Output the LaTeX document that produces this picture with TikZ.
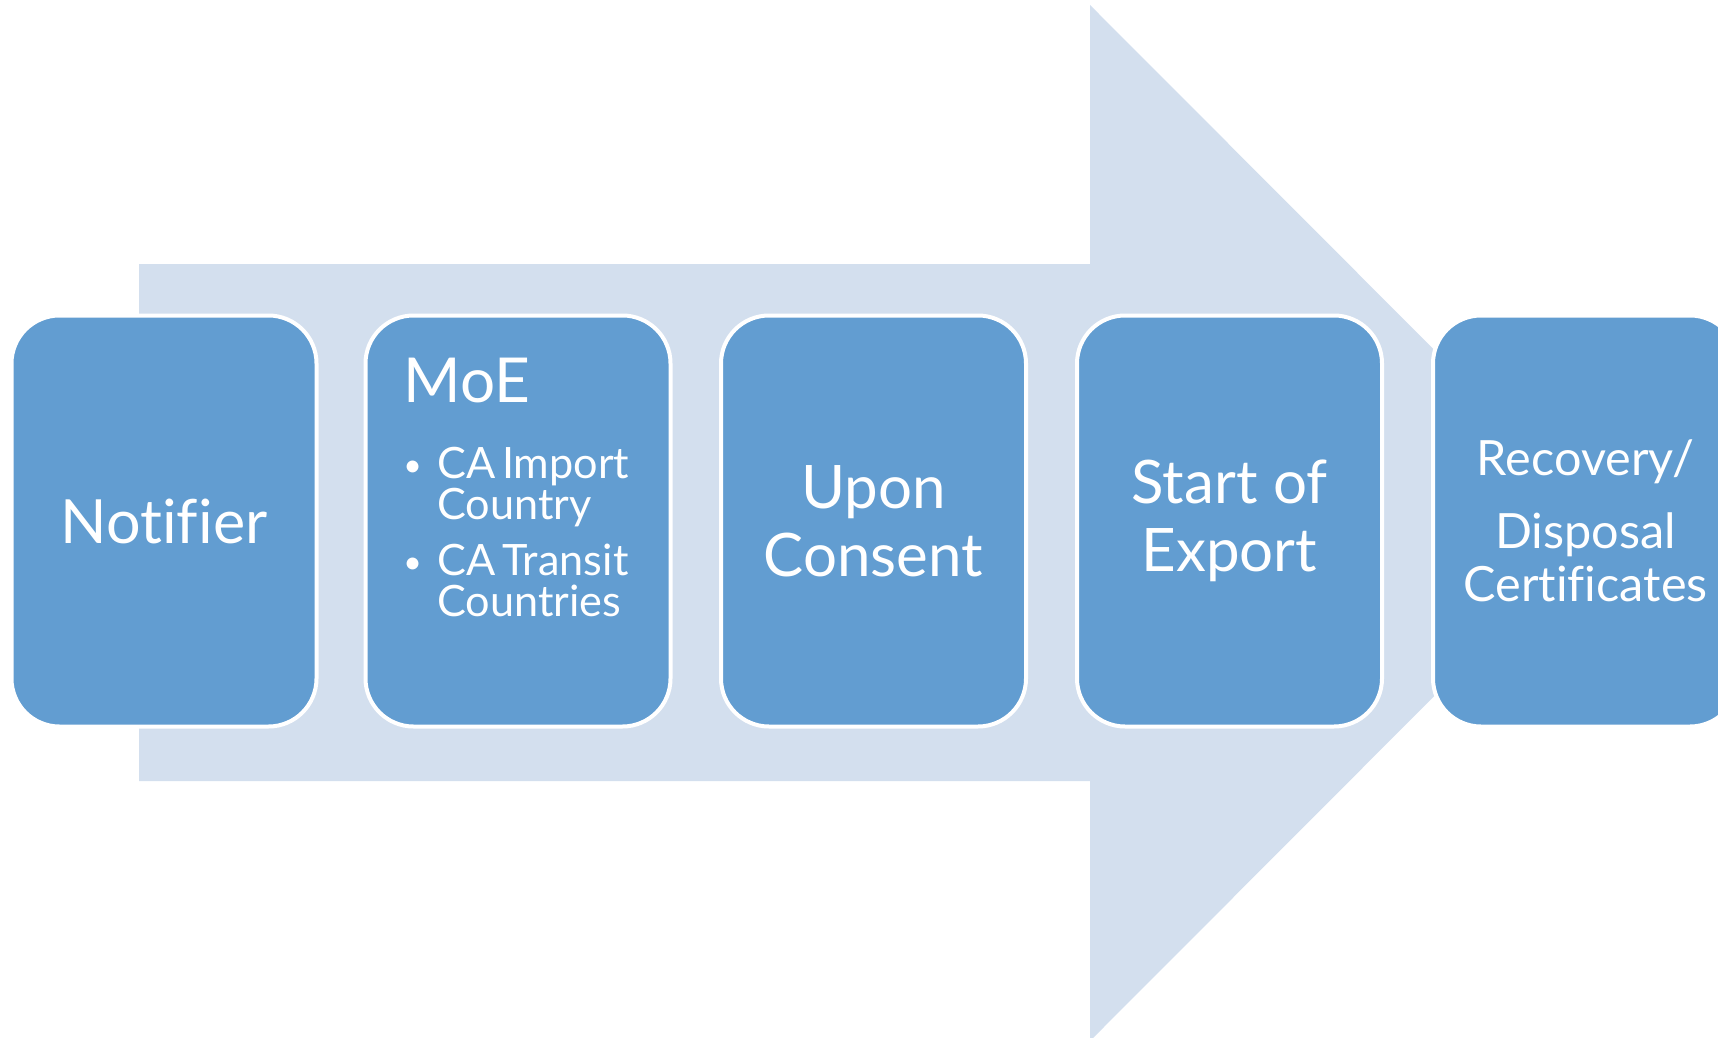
\documentclass[tikz,border=0pt]{standalone}
\usepackage{fontspec}
\setmainfont{Lato}[Ligatures=NoCommon]
\definecolor{stagefill}{HTML}{629DD1}
\definecolor{arrowfill}{HTML}{D3DFEE}
\newcommand{\moebullet}{\makebox[17pt][l]{\raisebox{1pt}{\fontsize{16}{16}\selectfont\textbullet}}}

\begin{document}
\begin{tikzpicture}[x=0.5pt,y=-0.5pt,
  stage/.style={draw=white, line width=2pt, fill=stagefill, rounded corners=24pt,
    minimum width=152.5pt, minimum height=205.5pt, inner sep=0pt,
    text=white, align=center}]
  % Page size
  \useasboundingbox (0,0) rectangle (1718,1038);
  \clip (0,0) rectangle (1718,1038);
  % Big arrow behind the stages
  \fill[arrowfill] (139,264) -- (1090,264) -- (1090,5) -- (1607,523)
    -- (1090,1041) -- (1090,781) -- (139,781) -- cycle;
  % The five stages
  \node[stage, font=\fontsize{30.5}{34}\selectfont] (notifier) at (164,521) {Notifier};
  \node[stage] (moe) at (518,521) {};
  \node[stage, font=\fontsize{30}{34}\selectfont] (consent) at (873.5,521) {Upon\\Consent};
  \node[stage, font=\fontsize{30}{34}\selectfont] (export) at (1229.5,521) {Start of\\Export};
  \node[stage, font=\fontsize{24.3}{26.5}\selectfont] (certs) at (1585.5,521)
    {Recovery/\\[10pt]Disposal\\Certificates};
  % Text of the MoE stage
  \node[anchor=north west, inner sep=0pt, text=white, text width=140pt, align=left]
    (moetext) at (403,358) {%
    {\fontsize{31}{31}\selectfont MoE\par}
    \vspace{17.5pt}
    {\fontsize{21.6}{20.5}\selectfont
    \moebullet CA Import\\
    \hspace*{17pt}Country\par
    \vspace{7.5pt}
    \moebullet CA Transit\\
    \hspace*{17pt}Countries\par}};
\end{tikzpicture}
\end{document}
